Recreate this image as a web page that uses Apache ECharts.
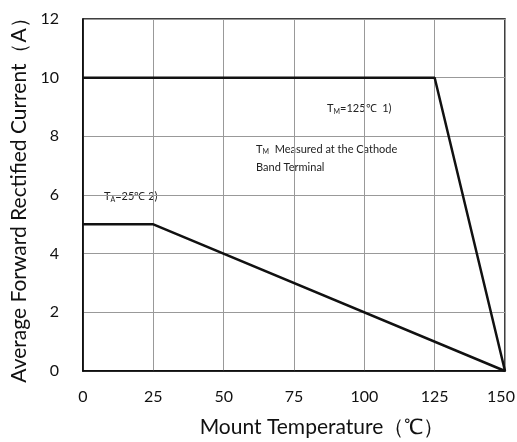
<!DOCTYPE html>
<html><head><meta charset="utf-8">
<script src="https://cdn.jsdelivr.net/npm/echarts@6/dist/echarts.min.js"></script>
<style>html,body{margin:0;padding:0;background:#fff}#c{width:517px;height:442px}</style>
</head><body><div id="c"></div>
<script>
const xTicks = [0, 25, 50, 75, 100, 125, 150];
const yTicks = [0, 2, 4, 6, 8, 10, 12];
const tmCurveX = [0, 125, 150];
const tmCurveY = [10, 10, 0];
const taCurveX = [0, 25, 150];
const taCurveY = [5, 5, 0];

const chart = echarts.init(document.getElementById('c'));
const font = 'Lato, "Open Sans", sans-serif';
chart.setOption({
  animation: false,
  grid: {left: 83, right: 12, top: 19, bottom: 71, outerBoundsMode: 'none', containLabel: false, show: true, borderColor: '#000', borderWidth: 1.5, backgroundColor: 'transparent'},
  xAxis: {
    type: 'value', min: 0, max: 150, interval: 25,
    name: 'Mount Temperature（℃）', nameLocation: 'middle', nameGap: 46,
    nameTextStyle: {fontSize: 21, color: '#111', fontFamily: font, padding: [0, 0, 0, 56]},
    axisLine: {show: true, lineStyle: {color: '#000', width: 1.5}},
    axisTick: {show: false},
    axisLabel: {fontSize: 16, color: '#111', fontFamily: font, margin: 18,
      formatter: v => !xTicks.includes(v) ? '' : (v === 150 ? '{e|' + v + '}' : String(v)),
      rich: {e: {fontSize: 16, color: '#111', fontFamily: font, padding: [0, 8, 0, 0]}}},
    splitLine: {show: true, lineStyle: {color: '#999', width: 1}}
  },
  yAxis: {
    type: 'value', min: 0, max: 12, interval: 2,
    name: 'Average Forward Rectified Current（A）', nameLocation: 'middle', nameGap: 50,
    nameTextStyle: {fontSize: 21, color: '#111', fontFamily: font},
    axisLine: {show: true, lineStyle: {color: '#000', width: 1.5}},
    axisTick: {show: false},
    axisLabel: {fontSize: 16, color: '#111', fontFamily: font, margin: 24, formatter: v => yTicks.includes(v) ? String(v) : ''},
    splitLine: {show: true, lineStyle: {color: '#999', width: 1}}
  },
  series: [
    {type: 'line', data: tmCurveX.map((x, i) => [x, tmCurveY[i]]), symbol: 'none', lineStyle: {color: '#111', width: 2.5}},
    {type: 'line', data: taCurveX.map((x, i) => [x, taCurveY[i]]), symbol: 'none', lineStyle: {color: '#111', width: 2.5}}
  ],
  graphic: [
    {type: 'text', left: 327, top: 103, style: {text: '{m|T}{s|M}{m|=125℃  1)}', rich: {m: {fontSize: 11, fontFamily: font, fill: '#222'}, s: {fontSize: 7, fontFamily: font, fill: '#222', padding: [6, 0, 0, 0]}}}},
    {type: 'text', left: 256, top: 140, style: {text: '{m|T}{s|M}{m|  Measured at the Cathode}\n{m|Band Terminal}', lineHeight: 18, rich: {m: {fontSize: 11, fontFamily: font, fill: '#222', lineHeight: 18}, s: {fontSize: 7, fontFamily: font, fill: '#222', padding: [6, 0, 0, 0]}}}},
    {type: 'text', left: 104, top: 191, style: {text: '{m|T}{s|A}{m|=25℃ 2)}', rich: {m: {fontSize: 11, fontFamily: font, fill: '#222'}, s: {fontSize: 7, fontFamily: font, fill: '#222', padding: [6, 0, 0, 0]}}}}
  ]
});
</script></body></html>
